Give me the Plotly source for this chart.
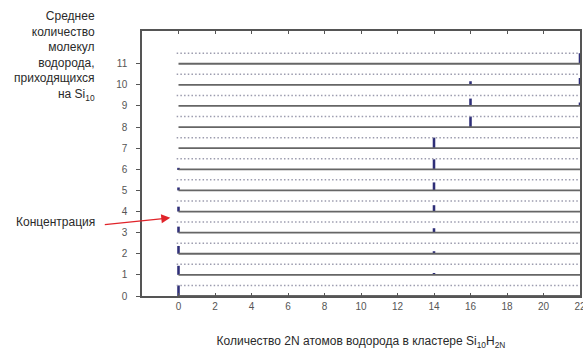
import plotly.graph_objects as go

# Average number of H2 molecules per Si10 (one row per value)
rows = list(range(12))

# Concentration (0..1) of clusters with 2N hydrogen atoms, per row
conc_h0 = [1.00, 0.86, 0.74, 0.57, 0.46, 0.28, 0.14, 0.00, 0.00, 0.00, 0.00, 0.00]
conc_h14 = [0.00, 0.13, 0.24, 0.42, 0.60, 0.76, 0.95, 1.00, 0.00, 0.00, 0.00, 0.00]
conc_h16 = [0.00, 0.00, 0.00, 0.00, 0.00, 0.00, 0.00, 0.00, 1.00, 0.70, 0.34, 0.00]
conc_h22 = [0.00, 0.00, 0.00, 0.00, 0.00, 0.00, 0.00, 0.00, 0.00, 0.33, 0.66, 1.00]

peaks = {0: conc_h0, 14: conc_h14, 16: conc_h16, 22: conc_h22}

x_ticks = list(range(0, 23, 2))
x_span = [0, 22]

ROW_SCALE = 0.5  # full concentration reaches half a row
BAR_COLOR = "#2f2f78"

fig = go.Figure()

# baselines and unit-concentration reference lines for each row
base_x, base_y, ref_x, ref_y = [], [], [], []
for r in rows:
    base_x += [x_span[0], x_span[1], None]
    base_y += [r, r, None]
    ref_x += [x_span[0] - 0.1, x_span[1] - 0.1, None]
    ref_y += [r + ROW_SCALE, r + ROW_SCALE, None]

fig.add_trace(go.Scatter(x=ref_x, y=ref_y, mode="lines",
                         line=dict(color="#9c9cae", width=1.5, dash="1.5px,2.2px"),
                         hoverinfo="skip", showlegend=False))
fig.add_trace(go.Scatter(x=base_x, y=base_y, mode="lines",
                         line=dict(color="#666666", width=1.8),
                         hoverinfo="skip", showlegend=False))

for xpos, conc in peaks.items():
    xs, bases, hs = [], [], []
    for r, c in zip(rows, conc):
        if c > 0:
            xs.append(xpos)
            bases.append(r)
            hs.append(c * ROW_SCALE)
    fig.add_trace(go.Bar(x=xs, y=hs, base=bases, width=0.14,
                         marker=dict(color=BAR_COLOR, line=dict(width=0)),
                         showlegend=False))

axis_font = dict(family="Liberation Sans, Arial, sans-serif", size=10, color="#555555")
text_font = dict(family="Liberation Sans, Arial, sans-serif", size=12, color="#2a2a2a")

fig.update_layout(
    width=583, height=351,
    margin=dict(l=142, r=3, t=31, b=55, autoexpand=False),
    paper_bgcolor="white", plot_bgcolor="white",
    barmode="overlay",
    xaxis=dict(range=[-2, 22], tickmode="array", tickvals=x_ticks,
               ticks="inside", ticklen=3, tickcolor="#555555",
               showline=True, linecolor="#555555", linewidth=1.5, mirror="ticks",
               showgrid=False, zeroline=False, tickfont=axis_font,
               ticklabeloverflow="allow", automargin=False,
               title=dict(text="Количество 2N атомов водорода в кластере Si<sub>10</sub>H<sub>2N</sub>",
                          font=dict(family="Liberation Sans, Arial, sans-serif", size=12, color="#2a2a2a"),
                          standoff=26)),
    yaxis=dict(range=[0, 12.55], tickmode="array", tickvals=rows,
               ticks="outside", ticklen=4, tickcolor="#555555",
               ticklabelstandoff=7, automargin=False,
               showline=True, linecolor="#555555", linewidth=1.5, mirror=True,
               showgrid=False, zeroline=False, tickfont=axis_font),
    annotations=[
        dict(text="Среднее<br>количество<br>молекул<br>водорода,<br>приходящихся<br>на Si<sub>10</sub>",
             xref="paper", yref="paper", x=-0.103, y=0.905, xanchor="right", yanchor="middle",
             align="right", showarrow=False, font=text_font),
        dict(text="Концентрация", xref="paper", yref="paper", x=-0.103, y=0.279,
             xanchor="right", yanchor="middle", showarrow=False, font=text_font),
        dict(text="", x=-2.1, y=12.08, xref="x", yref="y", showarrow=True,
             ax=-37, ay=0, arrowhead=2, arrowsize=1.5, arrowwidth=1.2, arrowcolor="#e0242a"),
        dict(text="", x=-0.45, y=3.7, xref="x", yref="y", showarrow=True,
             ax=-67, ay=7, arrowhead=2, arrowsize=1.5, arrowwidth=1.2, arrowcolor="#e0242a"),
    ],
)

fig.write_html("out.html")
